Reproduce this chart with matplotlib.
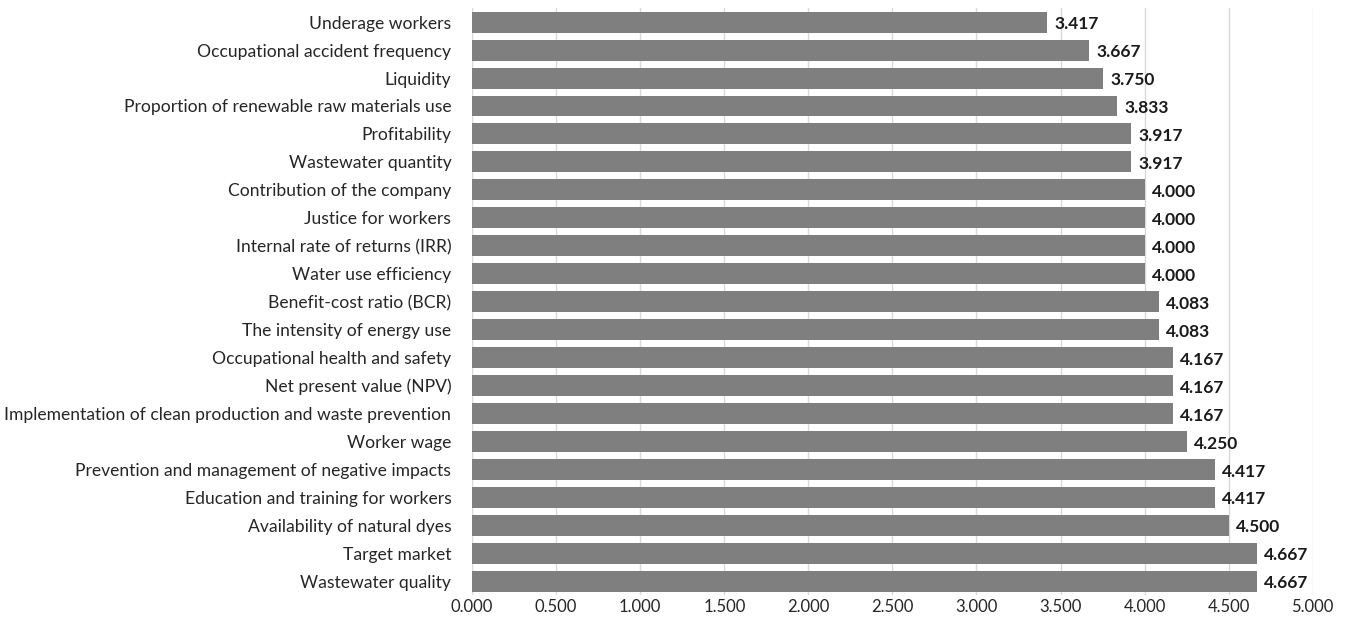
import matplotlib
matplotlib.use("Agg")
import matplotlib.pyplot as plt
from matplotlib.ticker import FixedLocator

categories = [
    "Underage workers",
    "Occupational accident frequency",
    "Liquidity",
    "Proportion of renewable raw materials use",
    "Profitability",
    "Wastewater quantity",
    "Contribution of the company",
    "Justice for workers",
    "Internal rate of returns (IRR)",
    "Water use efficiency",
    "Benefit-cost ratio (BCR)",
    "The intensity of energy use",
    "Occupational health and safety",
    "Net present value (NPV)",
    "Implementation of clean production and waste prevention",
    "Worker wage",
    "Prevention and management of negative impacts",
    "Education and training for workers",
    "Availability of natural dyes",
    "Target market",
    "Wastewater quality",
]
values = [3.417, 3.667, 3.750, 3.833, 3.917, 3.917, 4.000, 4.000, 4.000, 4.000,
          4.083, 4.083, 4.167, 4.167, 4.167, 4.250, 4.417, 4.417, 4.500, 4.667, 4.667]
xticks = [0.0, 0.5, 1.0, 1.5, 2.0, 2.5, 3.0, 3.5, 4.0, 4.5, 5.0]

plt.rcParams['font.family'] = ['Lato', 'DejaVu Sans']

fig = plt.figure(figsize=(13.45, 6.29), dpi=100)
ax = fig.add_axes([0.351, 0.054, 0.625, 0.933])

ypos = list(range(len(categories)))
ax.barh(ypos, values, height=0.75, color='#7f7f7f', zorder=2)
ax.set_ylim(len(categories) - 0.5, -0.5)
ax.set_xlim(0, 5.0)
ax.set_yticks(ypos)
ax.set_yticklabels(categories, fontsize=12.6, color='#262626')
ax.xaxis.set_major_locator(FixedLocator(xticks))
ax.set_xticklabels([f"{t:.3f}" for t in xticks], fontsize=12, color='#262626')
ax.tick_params(axis='y', length=0, pad=15)
ax.tick_params(axis='x', length=0, pad=3)
ax.grid(axis='x', color='#d9d9d9', linewidth=1, zorder=0)
for s in ax.spines.values():
    s.set_visible(False)

for y, v in zip(ypos, values):
    ax.text(v + 0.045, y + 0.08, f"{v:.3f}", va='center', ha='left', fontsize=12.5,
            fontweight='bold', color='#1a1a1a')

fig.savefig("out.png", dpi=100)
